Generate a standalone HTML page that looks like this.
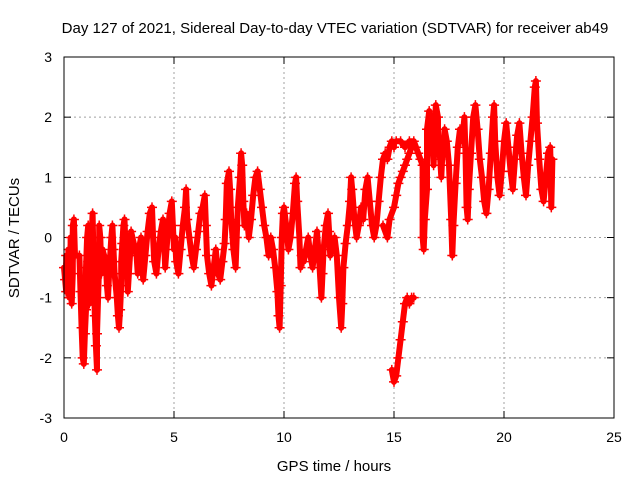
<!DOCTYPE html>
<html><head><meta charset="utf-8"><style>
body{margin:0;background:#fff;}
svg{display:block;font-family:"Liberation Sans",sans-serif;}
</style></head><body>
<svg id="chart" width="640" height="480">
<text x="335" y="33" font-size="15" text-anchor="middle">Day 127 of 2021, Sidereal Day-to-day VTEC variation (SDTVAR) for receiver ab49</text>
<text x="334" y="471" font-size="15" text-anchor="middle">GPS time / hours</text>
<text transform="translate(19,238) rotate(-90)" font-size="15" text-anchor="middle">SDTVAR / TECUs</text>
<g id="grid"></g><g id="ticks"></g><g id="marks"></g>
<rect x="64" y="57" width="550" height="361" fill="none" stroke="#000" stroke-width="1"/>
</svg>
<script>
const xTicks=[0,5,10,15,20,25];
const yTicks=[-3,-2,-1,0,1,2,3];
const hours=[0,0.05,0.1,0.1,0.15,0.2,0.2,0.25,0.3,0.3,0.35,0.4,0.4,0.45,0.5,
0.7,0.75,0.8,0.85,0.9,0.95,1.0,1.0,1.05,1.1,1.1,1.15,1.2,1.25,1.3,1.35,1.4,1.45,1.5,1.5,1.55,1.6,1.6,1.65,1.7,1.75,
1.9,1.95,2.0,2.05,2.1,2.15,2.2,2.25,2.3,2.4,2.45,2.5,2.55,2.6,2.6,2.65,2.7,2.75,2.8,2.85,2.9,2.95,3.0,3.05,
3.3,3.35,3.4,3.5,3.55,3.6,3.7,3.8,3.9,4.0,4.05,4.1,4.2,4.3,4.4,4.5,4.55,4.6,4.7,4.8,4.9,4.95,5.0,5.05,5.1,5.2,5.3,5.4,5.5,5.55,5.6,5.7,5.8,5.9,6.0,6.1,6.2,6.3,6.4,6.45,6.5,6.6,6.7,6.8,6.9,7.0,7.1,7.2,7.3,7.35,7.4,7.5,7.55,7.6,7.7,7.8,7.85,7.9,8.0,8.05,8.1,8.15,8.2,8.3,8.4,8.5,8.6,8.7,8.8,8.9,9.0,9.1,9.2,9.3,9.4,9.5,9.6,9.7,9.75,9.8,9.85,9.9,9.95,10.0,10.1,10.2,10.3,10.4,10.5,10.55,10.6,10.7,10.75,10.8,10.9,11.0,11.1,11.2,11.3,11.4,11.5,11.6,11.7,11.75,11.8,11.9,12.0,12.05,12.1,12.2,12.3,12.4,12.5,12.6,12.65,12.7,12.8,12.9,13.0,13.05,13.1,13.2,13.3,13.4,13.5,13.6,13.7,13.8,13.9,14.0,14.1,14.2,14.3,14.4,14.5,14.6,14.7,14.8,14.9,15.0,
14.9,15.0,15.1,15.2,15.3,15.4,15.5,15.6,15.7,15.8,15.9,
14.5,14.7,14.8,15.0,15.1,15.2,15.3,15.4,15.5,15.6,15.7,15.8,
15.1,15.3,15.5,15.7,15.9,16.0,16.1,16.2,16.3,
16.3,16.35,16.4,16.5,16.5,16.6,16.7,16.75,16.8,16.9,17.0,17.0,17.1,17.15,17.2,17.3,17.4,17.5,17.6,17.65,17.7,17.8,17.9,18.0,18.1,18.2,18.25,18.3,18.35,18.4,18.5,18.6,18.7,18.8,18.9,19.0,19.1,19.2,19.3,19.4,19.5,19.55,19.6,19.7,19.8,19.9,20.0,20.1,20.2,20.3,20.4,20.5,20.6,20.7,20.8,20.9,21.0,21.1,21.2,21.3,21.4,21.45,21.5,21.6,21.7,21.8,21.9,22.0,22.1,22.15,22.2];
const sdtvar=[-0.5,-0.7,-0.9,-0.3,-0.6,-0.8,-0.2,-1.0,-0.4,0.0,-1.1,-0.6,0.2,0.3,-0.3,
-0.3,-0.9,-1.5,-2.0,-2.1,-1.6,-1.2,-0.5,0.0,0.2,-0.4,-1.1,-0.8,0.0,0.4,-0.5,-1.3,-1.8,-2.2,-1.6,-1.0,-0.4,0.2,0.0,-0.6,-0.2,
-0.4,-0.8,-1.0,-0.6,-0.3,0.0,0.2,-0.2,-0.6,-1.0,-1.3,-1.5,-1.2,-0.8,-0.4,-0.1,0.2,0.3,-0.2,-0.5,-0.9,-0.6,-0.3,0.1,
-0.3,-0.6,-0.2,0.0,-0.4,-0.7,-0.3,0.1,0.4,0.5,0.0,-0.4,-0.6,-0.2,0.1,0.3,-0.1,-0.5,0.0,0.4,0.6,0.2,-0.2,0.0,-0.4,-0.6,-0.2,0.2,0.5,0.8,0.3,0.0,-0.3,-0.5,-0.2,0.1,0.4,0.5,0.7,0.2,-0.3,-0.6,-0.8,-0.5,-0.2,-0.6,-0.7,-0.4,-0.1,0.3,0.9,1.1,0.8,0.3,-0.2,-0.5,0.0,0.5,1.0,1.4,1.2,0.6,0.2,0.4,0.0,0.3,0.7,1.0,1.1,0.8,0.5,0.2,0.0,-0.3,0.0,-0.2,-0.5,-0.9,-1.3,-1.5,-0.8,0.0,0.4,0.5,0.2,-0.2,0.0,0.4,0.9,1.0,0.6,0.0,-0.5,-0.3,-0.4,-0.2,0.0,-0.3,-0.5,-0.2,0.1,-0.4,-1.0,-0.6,-0.2,0.2,0.4,0.1,-0.3,-0.1,0.0,-0.3,-1.0,-1.5,-1.1,-0.5,-0.1,0.2,0.6,1.0,0.8,0.3,0.0,0.2,0.5,0.3,0.8,1.0,0.6,0.2,0.0,0.2,0.6,1.0,1.3,1.4,1.3,1.5,1.6,1.5,
-2.2,-2.4,-2.3,-2.0,-1.7,-1.4,-1.1,-1.0,-1.1,-1.0,-1.0,
0.2,0.0,0.3,0.5,0.7,0.9,1.0,1.1,1.2,1.3,1.4,1.5,
1.6,1.6,1.5,1.6,1.6,1.5,1.4,1.3,1.2,
0.0,-0.2,0.3,0.8,1.8,2.1,1.9,1.5,1.2,2.2,2.0,1.6,1.3,1.0,1.4,1.8,1.6,1.2,0.3,-0.3,0.2,0.9,1.5,1.8,1.6,2.0,1.4,0.5,0.3,0.8,1.4,2.0,2.2,1.8,1.3,1.0,0.6,0.4,0.8,1.4,2.0,2.2,1.6,1.0,0.7,1.1,1.6,1.9,1.5,1.1,0.8,1.3,1.7,1.9,1.4,1.0,0.7,1.2,1.6,2.0,2.5,2.6,1.9,1.3,0.8,0.6,1.0,1.4,1.5,0.5,1.3];
const NS='http://www.w3.org/2000/svg';
const X=h=>64+h*22, Y=v=>237.5-v*60.17;
function mk(tag,attrs,parent){const e=document.createElementNS(NS,tag);for(const k in attrs)e.setAttribute(k,attrs[k]);parent.appendChild(e);return e;}
const grid=document.getElementById('grid'),ticks=document.getElementById('ticks'),marks=document.getElementById('marks');
xTicks.forEach(t=>{
  if(t>0&&t<25){const g=mk('line',{x1:X(t),x2:X(t),y1:57,y2:418,stroke:'#a0a0a0','stroke-dasharray':'2,3'},grid);
  
  }
  mk('line',{x1:X(t),x2:X(t),y1:418,y2:411,stroke:'#000'},ticks);
  mk('line',{x1:X(t),x2:X(t),y1:57,y2:64,stroke:'#000'},ticks);
  const l=mk('text',{x:X(t),y:442,'font-size':14,'text-anchor':'middle'},ticks);l.textContent=t;
  
  
});
yTicks.forEach(t=>{
  if(t>-3&&t<3){const g=mk('line',{x1:64,x2:614,y1:Y(t),y2:Y(t),stroke:'#a0a0a0','stroke-dasharray':'2,3'},grid);
  
  }
  mk('line',{x1:64,x2:71,y1:Y(t),y2:Y(t),stroke:'#000'},ticks);
  mk('line',{x1:614,x2:607,y1:Y(t),y2:Y(t),stroke:'#000'},ticks);
  const l=mk('text',{x:52,y:Y(t)+5,'font-size':14,'text-anchor':'end'},ticks);l.textContent=t;
  
  
});
let d='';
for(let i=0;i<hours.length;i++){
  const jump=i===0||Math.abs(hours[i]-hours[i-1])>0.25||hours[i]<hours[i-1];
  d+=(jump?'M':'L')+X(hours[i]).toFixed(1)+' '+Y(sdtvar[i]).toFixed(1);
}
const tr=mk('path',{d:d,fill:'none',stroke:'#f00','stroke-width':6,'stroke-linejoin':'round','stroke-linecap':'round'},marks);


for(let i=0;i<hours.length;i++){
  const x=X(hours[i]),y=Y(sdtvar[i]);
  const p=mk('path',{d:`M${x-5} ${y}H${x+5}M${x} ${y-5}V${y+5}`,stroke:'#f00','stroke-width':1.5},marks);
  
  
}
</script>
</body></html>
